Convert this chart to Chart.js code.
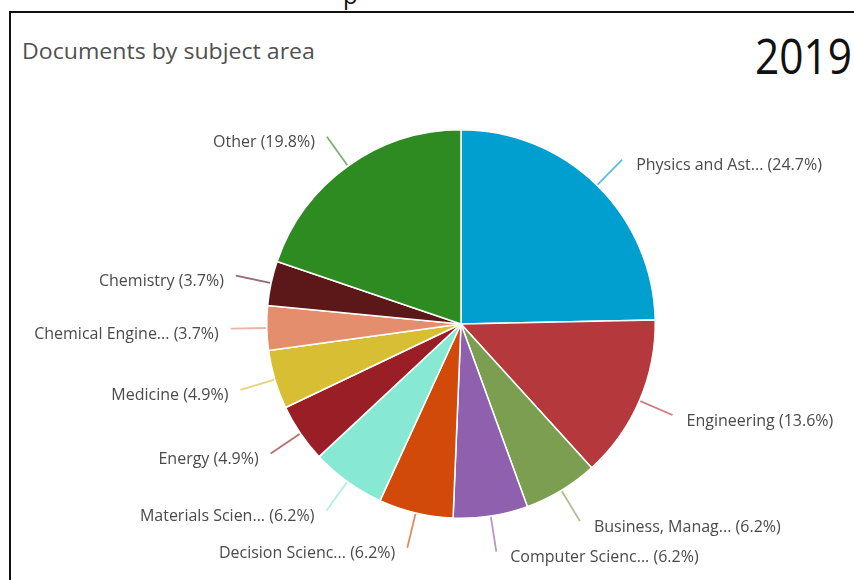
<!DOCTYPE html>
<html>
<head>
<meta charset="utf-8">
<script src="https://cdn.jsdelivr.net/npm/chart.js@4/dist/chart.umd.min.js"></script>
<style>
  html,body{margin:0;padding:0;background:#fff;width:854px;height:580px;overflow:hidden;}
  #frame{position:absolute;left:9px;top:11px;width:860px;height:600px;border-left:2.5px solid #111;border-top:2.5px solid #111;}
  .t{position:absolute;white-space:nowrap;transform-origin:0 0;}
  #title{left:22px;top:35px;font:22px "Open Sans",sans-serif;color:#505050;}
  #year{left:755px;top:22px;font:49px "Open Sans",sans-serif;color:#111;}
  #cut{left:343px;top:-22px;font:24px "Open Sans",sans-serif;color:#111;}
  #wrap{position:absolute;left:0;top:0;width:854px;height:580px;}
</style>
</head>
<body>
<div id="frame"></div>
<div class="t" id="cut">p</div>
<div class="t" id="title">Documents by subject area</div>
<div class="t" id="year">2019</div>
<div id="wrap"><canvas id="pie"></canvas></div>
<script>
/* ---- data ------------------------------------------------------------ */
const SUBJECTS = ["Physics and Ast...","Engineering","Business, Manag...","Computer Scienc...","Decision Scienc...",
  "Materials Scien...","Energy","Medicine","Chemical Engine...","Chemistry","Other"];
const SHARES = [24.7,13.6,6.2,6.2,6.2,6.2,4.9,4.9,3.7,3.7,19.8];
const COLORS = ["#009FD0","#B5383C","#7C9E50","#8F60AE","#D24A0A","#87E8D3","#9A1E25","#D7BE32","#E48E6E","#5C1718","#2E8B22"];

const $ = id => document.getElementById(id);

// squeeze header texts to the widths in the picture
function fit(id, w){ const el=$(id); el.style.transform="scaleX("+(w/el.offsetWidth)+")"; }
fit("title", 293);
fit("year", 97);

/* ---- leader lines + labels ------------------------------------------- */
const outLabels = {
  id:"outLabels",
  afterDatasetsDraw(chart){
    const ctx = chart.ctx;
    const arcs = chart.getDatasetMeta(0).data;
    ctx.save();
    ctx.font = '16px "Open Sans", sans-serif';
    ctx.textBaseline = "middle";
    arcs.forEach((arc,i)=>{
      const {x,y,startAngle,endAngle,outerRadius:r} = arc.getProps(["x","y","startAngle","endAngle","outerRadius"],true);
      const a = (startAngle+endAngle)/2, c = Math.cos(a), s = Math.sin(a);
      const x0 = x+c*(r+1), y0 = y+s*(r+1);
      const x1 = x+c*(r+36), y1 = y+s*(r+36);
      ctx.strokeStyle = COLORS[i]; ctx.globalAlpha = .65; ctx.lineWidth = 1.8;
      ctx.beginPath(); ctx.moveTo(x0,y0); ctx.lineTo(x1,y1); ctx.stroke();
      ctx.globalAlpha = 1;
      const right = c >= 0;
      ctx.fillStyle = "#4a4a4a";
      ctx.textAlign = right ? "left" : "right";
      ctx.fillText(SUBJECTS[i]+" ("+SHARES[i]+"%)", x1+(right?14:-12), y1+6);
    });
    ctx.restore();
  }
};

/* ---- chart ----------------------------------------------------------- */
new Chart($("pie"), {
  type:"pie",
  data:{ labels:SUBJECTS,
    datasets:[{ data:SHARES, backgroundColor:COLORS, borderColor:"#fff", borderWidth:1.5 }] },
  options:{ responsive:true, maintainAspectRatio:false, animation:false,
    layout:{ padding:{ left:266, right:198, top:129, bottom:61 } },
    plugins:{ legend:{display:false}, tooltip:{enabled:false} } },
  plugins:[outLabels]
});
</script>
</body>
</html>
